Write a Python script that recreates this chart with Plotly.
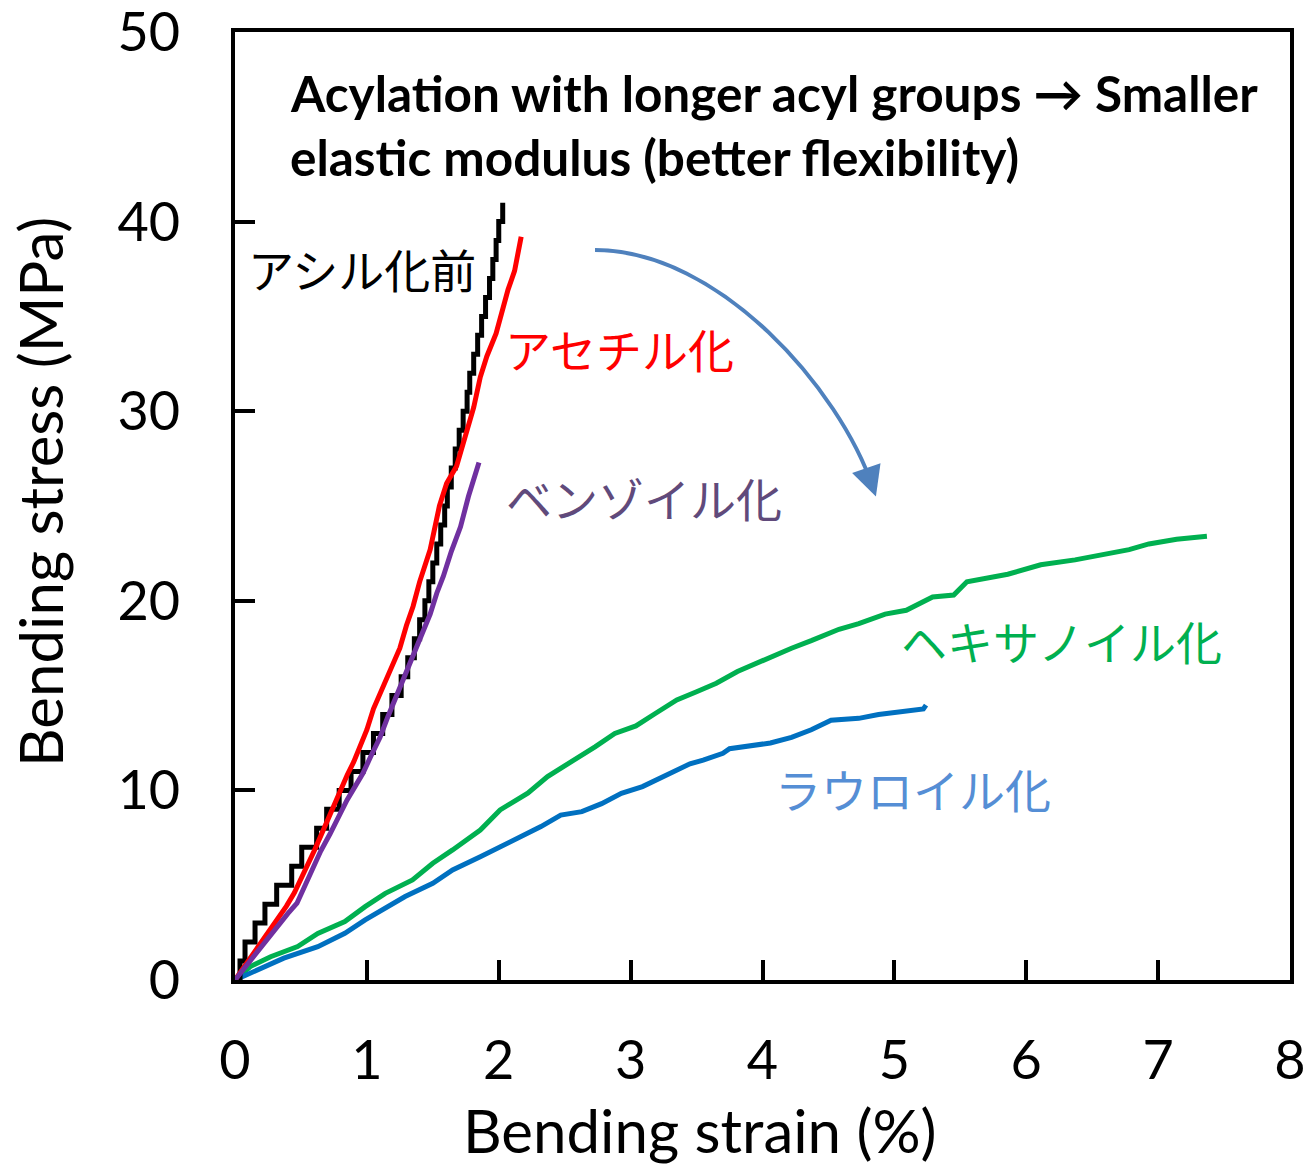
import plotly.graph_objects as go

# ---------------- data ----------------
# Before acylation (black) - stepped (1 MPa resolution)
black_riser_x = [0.038, 0.076, 0.152, 0.227, 0.316, 0.43, 0.506, 0.619, 0.695, 0.79,
                 0.88, 0.97, 1.05, 1.12, 1.19, 1.26, 1.31, 1.36, 1.40, 1.44,
                 1.47, 1.50, 1.53, 1.56, 1.59, 1.61, 1.64, 1.67, 1.70, 1.73,
                 1.76, 1.78, 1.81, 1.84, 1.87, 1.90, 1.93, 1.955, 1.98, 2.00, 2.03]
black_levels = list(range(1, 42))

acetyl_x = [0, 0.05, 0.10, 0.16, 0.21, 0.27, 0.33, 0.39, 0.45, 0.50, 0.55, 0.60, 0.65,
            0.70, 0.75, 0.80, 0.85, 0.90, 0.95, 1.00, 1.05, 1.10, 1.15, 1.20, 1.25,
            1.30, 1.35, 1.40, 1.48, 1.55, 1.605, 1.68, 1.73, 1.81, 1.86, 1.91, 1.98,
            2.03, 2.07, 2.12, 2.15, 2.17]
acetyl_y = [0, 0.5, 1.0, 1.5, 2.1, 2.7, 3.3, 3.9, 4.6, 5.3, 6.0, 6.8, 7.6,
            8.4, 9.2, 10.1, 10.8, 11.5, 12.3, 13.2, 14.3, 15.1, 15.9, 16.6, 17.5,
            18.7, 19.7, 21.0, 22.7, 25.0, 26.2, 27.1, 28.3, 30.2, 31.8, 32.9, 34.1,
            35.5, 36.4, 37.4, 38.7, 39.2]

benzoyl_x = [0, 0.10, 0.215, 0.30, 0.40, 0.47, 0.53, 0.59, 0.65, 0.72, 0.78, 0.85,
             0.91, 0.97, 1.03, 1.10, 1.16, 1.23, 1.29, 1.35, 1.42, 1.48, 1.53, 1.58,
             1.64, 1.71, 1.77, 1.82, 1.85]
benzoyl_y = [0, 0.9, 1.93, 2.7, 3.5, 4.05, 5.0, 6.0, 6.8, 7.7, 8.6, 9.5,
             10.2, 10.9, 11.8, 12.8, 13.9, 15.1, 16.1, 17.2, 18.3, 19.3, 20.4, 21.3,
             22.6, 23.9, 25.5, 26.6, 27.3]

hexanoyl_x = [0, 0.116, 0.27, 0.475, 0.628, 0.833, 0.987, 1.14, 1.346, 1.50, 1.65,
              1.86, 2.01, 2.22, 2.37, 2.58, 2.73, 2.88, 3.04, 3.19, 3.35, 3.50, 3.65,
              3.81, 4.01, 4.22, 4.37, 4.58, 4.73, 4.93, 5.09, 5.29, 5.45, 5.55, 5.86,
              6.11, 6.37, 6.63, 6.78, 6.93, 7.14, 7.37]
hexanoyl_y = [0, 0.71, 1.23, 1.76, 2.46, 3.08, 3.87, 4.57, 5.28, 6.16, 6.86,
              7.91, 8.97, 9.85, 10.73, 11.61, 12.3, 13.0, 13.4, 14.07, 14.77, 15.2, 15.65,
              16.27, 16.9, 17.5, 17.9, 18.5, 18.8, 19.3, 19.5, 20.2, 20.3, 21.0, 21.4,
              21.9, 22.16, 22.5, 22.7, 23.0, 23.25, 23.4]

lauroyl_x = [0, 0.167, 0.37, 0.628, 0.833, 0.987, 1.14, 1.29, 1.50, 1.65, 1.86, 2.01,
             2.17, 2.32, 2.47, 2.63, 2.78, 2.93, 3.09, 3.29, 3.45, 3.55, 3.70, 3.75,
             4.06, 4.22, 4.37, 4.52, 4.73, 4.88, 5.09, 5.22, 5.24]
lauroyl_y = [0, 0.53, 1.15, 1.76, 2.46, 3.17, 3.78, 4.4, 5.1, 5.8, 6.5, 7.0,
             7.6, 8.09, 8.7, 8.88, 9.3, 9.85, 10.2, 10.9, 11.4, 11.6, 11.96, 12.2,
             12.5, 12.8, 13.2, 13.7, 13.8, 14.0, 14.16, 14.3, 14.5]

series_names = ["アシル化前", "アセチル化", "ベンゾイル化", "ヘキサノイル化", "ラウロイル化"]
line_colors = ["#000000", "#ff0000", "#7030a0", "#00b050", "#0070c0"]
label_colors = ["#000000", "#ff0000", "#604a7b", "#00b050", "#558ed5"]
label_x = [0.08, 2.035, 2.04, 5.035, 4.08]
label_y = [37.55, 33.33, 25.47, 17.93, 10.13]

title_lines = ["Acylation with longer acyl groups → Smaller",
               "elastic modulus (better flexibility)"]
title_x = 0.40
title_y = [46.8, 43.4]

x_title = "Bending strain (%)"
y_title = "Bending stress (MPa)"

x_ticks = [0, 1, 2, 3, 4, 5, 6, 7, 8]
y_ticks = [0, 10, 20, 30, 40, 50]

# curved arrow (cubic Bezier: start, two controls, tip) in data units
arrow_start = (2.73, 38.5)
arrow_c1 = (3.677, 38.5)
arrow_c2 = (4.587, 31.12)
arrow_tip = (4.86, 25.5)

# ---------------- build black staircase ----------------
black_x = [0.0]
black_y = [0.0]
prev = 0
for xr, lv in zip(black_riser_x, black_levels):
    black_x += [xr, xr]
    black_y += [prev, lv]
    prev = lv

FONT = "Lato, 'Noto Sans CJK JP', sans-serif"
JFONT = "'Noto Sans CJK JP', sans-serif"

W, H = 1308, 1165
ML, MR, MT, MB = 235, 18, 32, 185

fig = go.Figure()
curves = [
    (hexanoyl_x, hexanoyl_y, 3),
    (lauroyl_x, lauroyl_y, 4),
    (black_x, black_y, 0),
    (acetyl_x, acetyl_y, 1),
    (benzoyl_x, benzoyl_y, 2),
]
for xs, ys, idx in curves:
    fig.add_trace(go.Scatter(x=xs, y=ys, mode="lines", name=series_names[idx],
                             line=dict(color=line_colors[idx], width=5),
                             showlegend=False, hoverinfo="skip"))

annotations = []
for name, c, lx, ly in zip(series_names, label_colors, label_x, label_y):
    annotations.append(dict(x=lx, y=ly, xref="x", yref="y", text=name,
                            showarrow=False, xanchor="left", yanchor="middle",
                            font=dict(family=JFONT, size=46, color=c)))
for t, ty in zip(title_lines, title_y):
    annotations.append(dict(x=title_x, y=ty, xref="x", yref="y", text="<b>" + t + "</b>",
                            showarrow=False, xanchor="left", yanchor="middle",
                            font=dict(family=FONT, size=49.5, color="#000000")))

# axis titles (positioned as in the reference)
plot_w = W - ML - MR
plot_h = H - MT - MB
annotations.append(dict(x=(700 - ML) / plot_w, y=-(1130 - (H - MB)) / plot_h,
                        xref="paper", yref="paper", text=x_title, showarrow=False,
                        xanchor="center", yanchor="middle",
                        font=dict(family=FONT, size=60, color="#000000")))
annotations.append(dict(x=-(ML - 40) / plot_w, y=((H - MB) - 492) / plot_h,
                        xref="paper", yref="paper", text=y_title, showarrow=False,
                        textangle=-90, xanchor="center", yanchor="middle",
                        font=dict(family=FONT, size=60, color="#000000")))

# arrowhead along the end tangent of the curve
dx = arrow_tip[0] - arrow_c2[0]
dy = arrow_tip[1] - arrow_c2[1]
back_x = arrow_tip[0] - dx * 0.09
back_y = arrow_tip[1] - dy * 0.09
annotations.append(dict(x=arrow_tip[0], y=arrow_tip[1], ax=back_x, ay=back_y,
                        xref="x", yref="y", axref="x", ayref="y", text="",
                        showarrow=True, arrowhead=2, arrowsize=1.5, arrowwidth=4,
                        arrowcolor="#4f81bd", standoff=0))

fig.add_shape(type="path", xref="x", yref="y",
              path=(f"M {arrow_start[0]},{arrow_start[1]} "
                    f"C {arrow_c1[0]},{arrow_c1[1]} {arrow_c2[0]},{arrow_c2[1]} {back_x},{back_y}"),
              line=dict(color="#4f81bd", width=4))

axis_common = dict(showline=True, linewidth=4, linecolor="#000000", mirror=True,
                   ticks="inside", ticklen=20, tickwidth=4, tickcolor="#000000",
                   showgrid=False, zeroline=False, ticklabeloverflow="allow",
                   automargin=False,
                   tickfont=dict(family=FONT, size=54, color="#000000"))

fig.update_layout(
    width=W, height=H,
    margin=dict(l=ML, r=MR, t=MT, b=MB),
    paper_bgcolor="white", plot_bgcolor="white",
    xaxis=dict(range=[0, 8], tickvals=x_ticks, ticktext=[str(v) for v in x_ticks],
               ticklabelstandoff=30, **axis_common),
    yaxis=dict(range=[0, 50], tickvals=y_ticks, ticktext=[str(v) for v in y_ticks],
               ticklabelstandoff=40, **axis_common),
    annotations=annotations,
)

fig.write_html("out.html")
